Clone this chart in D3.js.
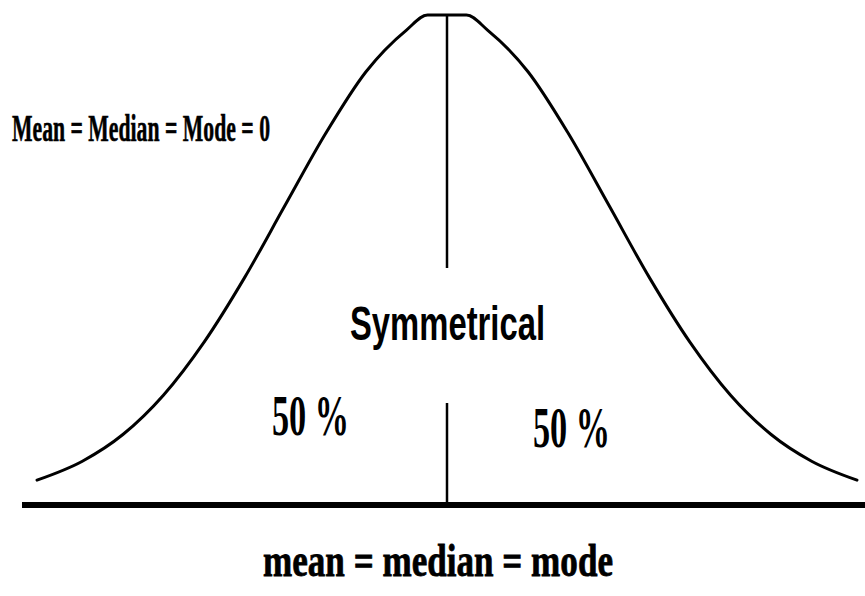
<!DOCTYPE html>
<html>
<head>
<meta charset="utf-8">
<script src="https://cdn.jsdelivr.net/npm/d3@7"></script>
<style>
  html, body { margin: 0; padding: 0; background: #fff; }
  svg { display: block; }
</style>
</head>
<body>
<div id="chart"></div>
<script>
// Data: position along the curve (in SDs) and relative height
const curveX = [-2.53, -2.25, -2.0, -1.75, -1.5, -1.25, -1.0, -0.75, -0.5, -0.25, -0.12, 0, 0.12, 0.25, 0.5, 0.75, 1.0, 1.25, 1.5, 1.75, 2.0, 2.25, 2.53];
const curveY = [0.041, 0.080, 0.135, 0.216, 0.325, 0.458, 0.607, 0.755, 0.883, 0.969, 1, 1, 1, 0.969, 0.883, 0.755, 0.607, 0.458, 0.325, 0.216, 0.135, 0.080, 0.041];
const centerValue = [0];
const topLabel = ["Mean = Median = Mode = 0"];
const shapeLabel = ["Symmetrical"];
const shareLabels = ["50 %", "50 %"];
const axisLabel = ["mean = median = mode"];

const W = 865, H = 596;
const svg = d3.select("#chart").append("svg")
  .attr("width", W).attr("height", H);
svg.append("rect").attr("width", W).attr("height", H).attr("fill", "#fff");

const x = d3.scaleLinear().domain([d3.min(curveX), d3.max(curveX)]).range([37, 857]);
const y = d3.scaleLinear().domain([0, 1]).range([500, 15]);

const pts = curveX.map((v, i) => [v, curveY[i]]);
const line = d3.line().x(d => x(d[0])).y(d => y(d[1])).curve(d3.curveMonotoneX);

// bell curve
svg.append("path").datum(pts)
  .attr("d", line)
  .attr("fill", "none")
  .attr("stroke", "#000")
  .attr("stroke-width", 3)
  .attr("stroke-linejoin", "round")
  .attr("stroke-linecap", "round");

// baseline
const baseY = 505;
svg.append("line")
  .attr("x1", 22).attr("x2", 865)
  .attr("y1", baseY).attr("y2", baseY)
  .attr("stroke", "#000").attr("stroke-width", 6);

// center line (two segments)
const cx = x(centerValue[0]);
svg.append("line")
  .attr("x1", cx).attr("x2", cx)
  .attr("y1", y(1)).attr("y2", 268)
  .attr("stroke", "#000").attr("stroke-width", 2.5);
svg.append("line")
  .attr("x1", cx).attr("x2", cx)
  .attr("y1", 403).attr("y2", baseY)
  .attr("stroke", "#000").attr("stroke-width", 2.5);

// texts
svg.append("text")
  .attr("x", 12).attr("y", 141)
  .attr("font-family", "'Liberation Serif', 'Times New Roman', serif")
  .attr("font-weight", "bold")
  .attr("font-size", 38)
  .attr("stroke", "#000").attr("stroke-width", 0.6)
  .attr("textLength", 258)
  .attr("lengthAdjust", "spacingAndGlyphs")
  .text(topLabel[0]);

svg.append("text")
  .attr("x", 350).attr("y", 340)
  .attr("font-family", "'Liberation Sans', Arial, sans-serif")
  .attr("font-weight", "bold")
  .attr("font-size", 49)
  .attr("textLength", 195)
  .attr("lengthAdjust", "spacingAndGlyphs")
  .text(shapeLabel[0]);

const sharePos = [[272, 435], [533, 447]];
svg.selectAll("text.share").data(shareLabels).enter().append("text")
  .attr("class", "share")
  .attr("x", (d, i) => sharePos[i][0])
  .attr("y", (d, i) => sharePos[i][1])
  .attr("font-family", "'Liberation Serif', 'Times New Roman', serif")
  .attr("font-weight", "bold")
  .attr("font-size", 56)
  .attr("textLength", 77)
  .attr("lengthAdjust", "spacingAndGlyphs")
  .text(d => d);

svg.append("text")
  .attr("x", 263).attr("y", 576)
  .attr("font-family", "'Liberation Serif', 'Times New Roman', serif")
  .attr("font-weight", "bold")
  .attr("font-size", 46)
  .attr("stroke", "#000").attr("stroke-width", 0.8)
  .attr("textLength", 350)
  .attr("lengthAdjust", "spacingAndGlyphs")
  .text(axisLabel[0]);
</script>
</body>
</html>
